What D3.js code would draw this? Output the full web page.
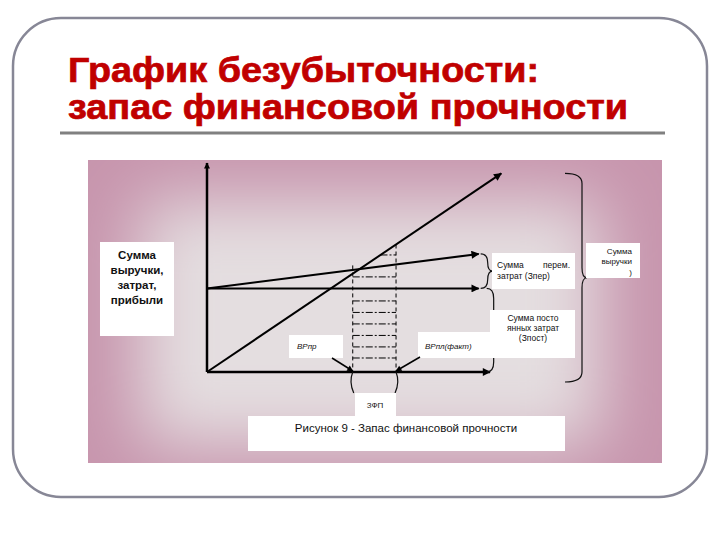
<!DOCTYPE html>
<html><head><meta charset="utf-8">
<script src="https://cdn.jsdelivr.net/npm/d3@7"></script>
<style>body{margin:0;background:#fff}svg{display:block}</style>
</head><body>
<svg id="c" width="720" height="540"></svg>
<script>
// ---- data (abstract units) ----
const titleLines = ["График безубыточности:", "запас финансовой прочности"];
const axisMax = [100, 100];                 // x (volume), y (money)
const revenueLine = [[0, 0], [104, 95]];    // Сумма выручки
const fixedCostLine = [[0, 40], [96, 40]];  // Зпост
const totalCostLine = [[0, 40], [96, 56.5]];// Зпост + Зпер
const breakEvenX = 51.5;                    // ВРпр
const actualX = 66.8;                       // ВРпл(факт)
const breakEvenTop = 51;
const actualTop = 61;
const hatchLevels = [6.7, 12, 17.5, 23, 28.5, 34, 45.5, 56];
const yLabelLines = ["Сумма", "выручки,", "затрат,", "прибыли"];
const varLabelLines = ["Сумма", "перем.", "затрат (Зпер)"];
const fixLabelLines = ["Сумма посто", "янных затрат", "(Зпост)"];
const revLabelLines = ["Сумма", "выручки", ")"];
const bepLabel = "ВРпр";
const actLabel = "ВРпл(факт)";
const mosLabel = "ЗФП";
const caption = "Рисунок 9 - Запас финансовой прочности";

const svg = d3.select("#c");
const FONT = "'Liberation Sans', Arial, sans-serif";

// scales
const x = d3.scaleLinear().domain([0, axisMax[0]]).range([207, 490]);
const y = d3.scaleLinear().domain([0, axisMax[1]]).range([372, 163]);

const defs = svg.append("defs");
defs.append("filter").attr("id", "blur").attr("x", "-50%").attr("y", "-50%").attr("width", "200%").attr("height", "200%")
  .append("feGaussianBlur").attr("stdDeviation", 34);
function marker(id, w, h) {
  defs.append("marker").attr("id", id).attr("viewBox", "0 0 10 10")
    .attr("refX", 9).attr("refY", 5).attr("markerUnits", "userSpaceOnUse")
    .attr("markerWidth", w).attr("markerHeight", h).attr("orient", "auto")
    .append("path").attr("d", "M0,0L10,5L0,10Z").attr("fill", "#000");
}
marker("arr", 10, 8);
marker("arrS", 8, 6);

// outer slide frame
svg.append("rect").attr("x", 13).attr("y", 18).attr("width", 694).attr("height", 479)
  .attr("rx", 48).attr("ry", 48).attr("fill", "#fff").attr("stroke", "#878796").attr("stroke-width", 2.5);

// title
titleLines.forEach((t, i) => {
  svg.append("text").attr("x", 68).attr("y", 82 + i * 37).text(t)
    .attr("font-family", FONT).attr("font-weight", "bold").attr("font-size", 35)
    .attr("fill", "#c00000").attr("stroke", "#c00000").attr("stroke-width", 0.7)
    .attr("textLength", i === 0 ? 471 : 560).attr("lengthAdjust", "spacingAndGlyphs");
});
svg.append("line").attr("x1", 60).attr("x2", 665).attr("y1", 133).attr("y2", 133)
  .attr("stroke", "#808080").attr("stroke-width", 3);

// pink background panel with soft rectangular gradient
const panel = svg.append("g");
panel.append("defs").append("clipPath").attr("id", "pclip")
  .append("rect").attr("x", 88).attr("y", 160).attr("width", 574).attr("height", 303);
panel.append("rect").attr("x", 88).attr("y", 160).attr("width", 574).attr("height", 303).attr("fill", "#c795ad");
panel.append("rect").attr("x", 140).attr("y", 200).attr("width", 460).attr("height", 245)
  .attr("fill", "#e4dee0").attr("filter", "url(#blur)").attr("clip-path", "url(#pclip)");

const g = svg.append("g");
const line = d3.line().x(d => x(d[0])).y(d => y(d[1]));

// hatch lines (margin of safety zone)
hatchLevels.forEach(v => {
  const xr = Math.max(breakEvenX, v * revenueLine[1][0] / revenueLine[1][1]);
  g.append("line").attr("x1", x(xr)).attr("x2", x(actualX)).attr("y1", y(v)).attr("y2", y(v))
    .attr("stroke", "#000").attr("stroke-width", 1).attr("stroke-dasharray", "7,2,2,2");
});
// vertical dashed lines
[[breakEvenX, breakEvenTop], [actualX, actualTop]].forEach(([vx, top]) => {
  g.append("line").attr("x1", x(vx)).attr("x2", x(vx)).attr("y1", y(top)).attr("y2", y(0))
    .attr("stroke", "#000").attr("stroke-width", 1).attr("stroke-dasharray", "4,3");
});

// axes (no ticks) drawn from scales
g.append("line").attr("x1", x(0)).attr("y1", y(0)).attr("x2", x(0)).attr("y2", y(axisMax[1]))
  .attr("stroke", "#000").attr("stroke-width", 2.5).attr("marker-end", "url(#arrS)");
g.append("line").attr("x1", x(0)).attr("y1", y(0)).attr("x2", x(axisMax[0])).attr("y2", y(0))
  .attr("stroke", "#000").attr("stroke-width", 2.5).attr("marker-end", "url(#arr)");

// lines
[revenueLine, fixedCostLine, totalCostLine].forEach(d => {
  g.append("path").attr("d", line(d)).attr("fill", "none").attr("stroke", "#000")
    .attr("stroke-width", 2).attr("marker-end", "url(#arr)");
});

// braces
function brace(xs, y0, y1, w) {
  const m = (y0 + y1) / 2, r = Math.min(10, (y1 - y0) / 4);
  return `M${xs},${y0} Q${xs + w},${y0} ${xs + w},${y0 + r} L${xs + w},${m - r} Q${xs + w},${m} ${xs + w + 5},${m}` +
         ` M${xs + w + 5},${m} Q${xs + w},${m} ${xs + w},${m + r} L${xs + w},${y1 - r} Q${xs + w},${y1} ${xs},${y1}`;
}
const bs = { fill: "none", stroke: "#111", "stroke-width": 1.2 };
function addPath(d) { const p = g.append("path").attr("d", d); Object.entries(bs).forEach(([k, v]) => p.attr(k, v)); }
addPath(brace(x(fixedCostLine[1][0]) + 2, y(totalCostLine[1][1]), y(fixedCostLine[1][1]), 7));
addPath(brace(x(fixedCostLine[1][0]) + 8, y(fixedCostLine[1][1]), y(0), 7));
addPath(brace(565, y(revenueLine[1][1]), 382, 17));
// ЗФП bracket
addPath(`M${x(breakEvenX)},${y(0)} Q${x(breakEvenX) - 4},${y(0) + 10} ${x(breakEvenX) + 1},${y(0) + 21}`);
addPath(`M${x(actualX)},${y(0)} Q${x(actualX) + 4},${y(0) + 10} ${x(actualX) - 1},${y(0) + 21}`);

// label boxes
function box(bx, by, bw, bh) {
  g.append("rect").attr("x", bx).attr("y", by).attr("width", bw).attr("height", bh).attr("fill", "#fff");
}
function txt(t, tx, ty, size, anchor, opts = {}) {
  const e = g.append("text").attr("x", tx).attr("y", ty).text(t).attr("font-family", FONT)
    .attr("font-size", size).attr("text-anchor", anchor).attr("fill", opts.fill || "#111");
  if (opts.bold) e.attr("font-weight", "bold");
  if (opts.italic) e.attr("font-style", "italic");
  return e;
}
box(100, 242, 74, 94);
yLabelLines.forEach((t, i) => txt(t, 137, 259 + i * 15, 11.5, "middle", { bold: true }));

box(492, 253, 83, 36);
txt(varLabelLines[0], 497, 268, 8.5, "start");
txt(varLabelLines[1], 570, 268, 8.5, "end");
txt(varLabelLines[2], 497, 279, 8.5, "start");

box(490, 310, 85, 48);
fixLabelLines.forEach((t, i) => txt(t, 533, 321 + i * 10, 8.5, "middle"));

box(586, 243, 54, 35);
txt(revLabelLines[0], 632, 254, 8, "end");
txt(revLabelLines[1], 632, 264, 8, "end");
txt(revLabelLines[2], 632, 275, 8, "end");

box(289, 335, 54, 23);
txt(bepLabel, 297, 349, 8, "start", { italic: true });
box(418, 332, 72, 26);
txt(actLabel, 425, 349, 8, "start", { italic: true });

// pointer arrows to break-even and actual volume
g.append("line").attr("x1", 332).attr("y1", 358).attr("x2", x(breakEvenX)).attr("y2", y(0) - 1)
  .attr("stroke", "#000").attr("stroke-width", 1.5).attr("marker-end", "url(#arrS)");
g.append("line").attr("x1", 420).attr("y1", 357).attr("x2", x(actualX)).attr("y2", y(0) - 1)
  .attr("stroke", "#000").attr("stroke-width", 1.5).attr("marker-end", "url(#arrS)");

box(355, 393, 41, 26);
txt(mosLabel, 375, 408, 8, "middle");

box(248, 416, 317, 35);
txt(caption, 406, 432, 11.5, "middle");
</script>
</body></html>
